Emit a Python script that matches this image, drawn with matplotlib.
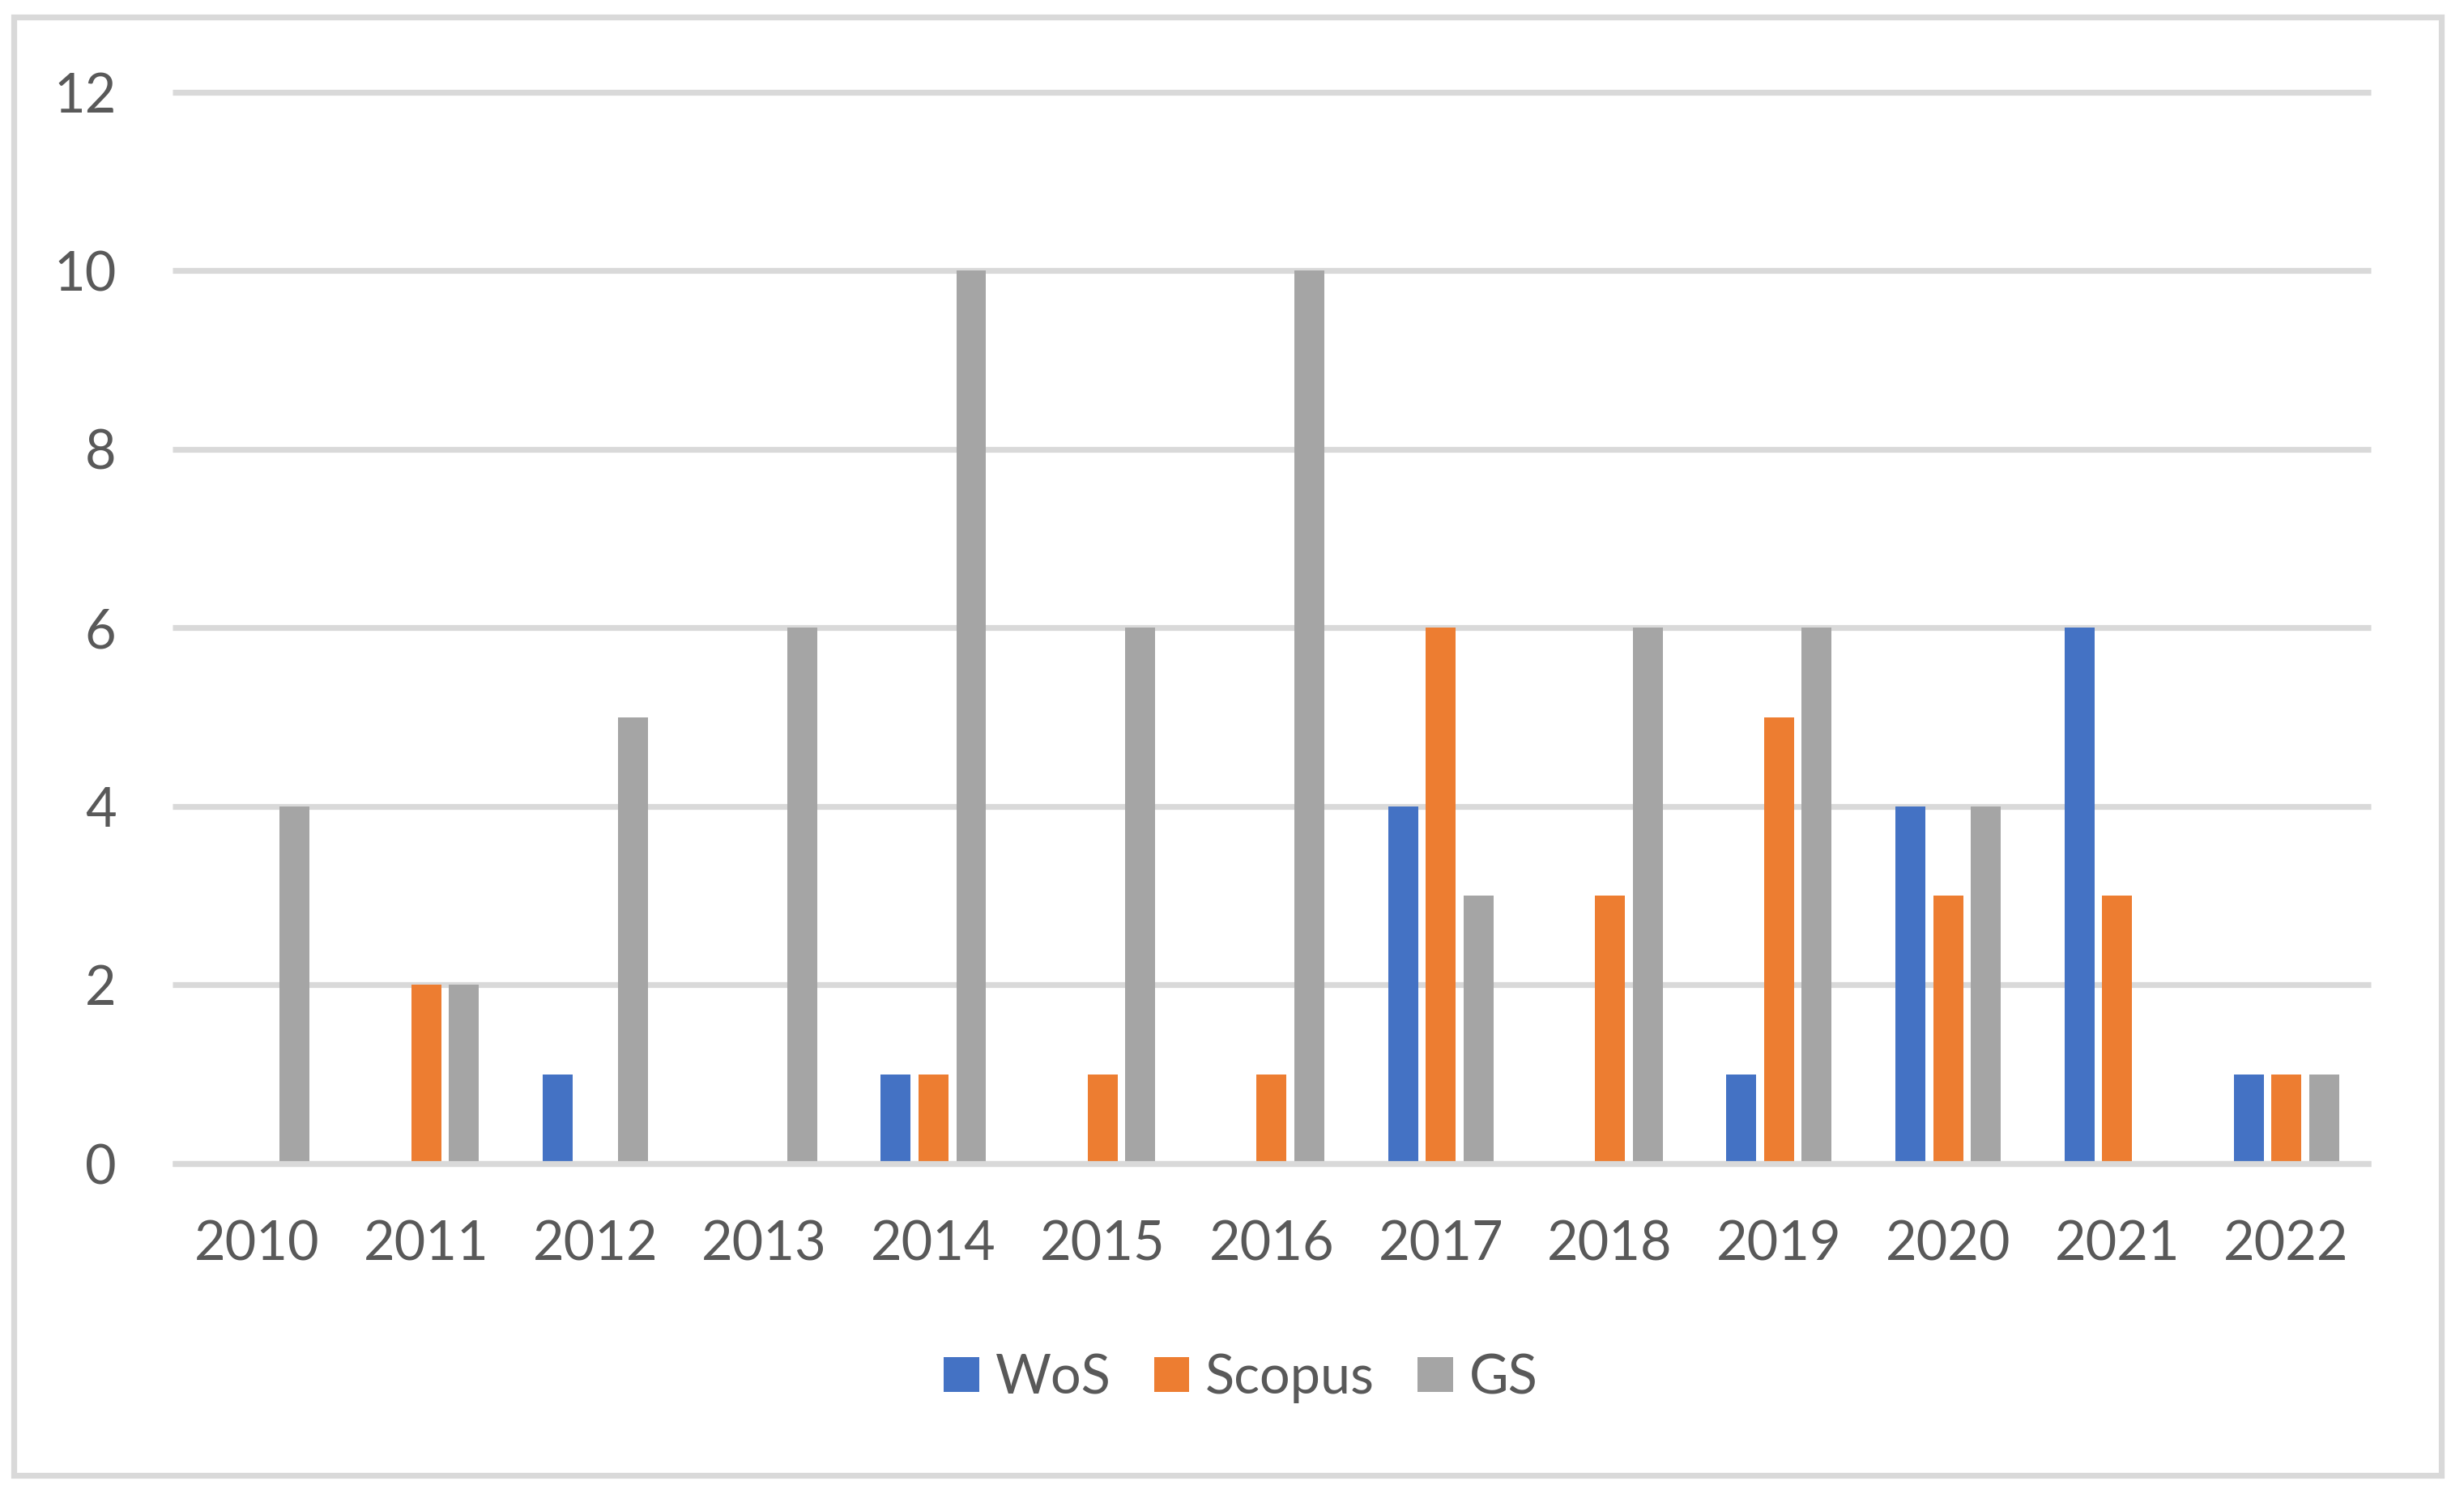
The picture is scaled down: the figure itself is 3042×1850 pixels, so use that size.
import numpy as np
import matplotlib
matplotlib.use("Agg")
import matplotlib.pyplot as plt
from matplotlib.patches import Rectangle

years = ["2010", "2011", "2012", "2013", "2014", "2015", "2016",
         "2017", "2018", "2019", "2020", "2021", "2022"]
wos = [0, 0, 1, 0, 1, 0, 0, 4, 0, 1, 4, 6, 1]
scopus = [0, 2, 0, 0, 1, 1, 1, 6, 3, 5, 3, 3, 1]
gs = [4, 2, 5, 6, 10, 6, 10, 3, 6, 6, 4, 0, 1]
y_ticks = [0, 2, 4, 6, 8, 10, 12]

series = [("WoS", wos, "#4472C4"),
          ("Scopus", scopus, "#ED7D31"),
          ("GS", gs, "#A5A5A5")]

plt.rcParams['font.family'] = ['Lato', 'DejaVu Sans']
text_col = "#595959"
grid_col = "#D9D9D9"

fig = plt.figure(figsize=(15.21, 9.25), dpi=200)
ax = fig.add_axes([0.0700, 0.2232, 0.8922, 0.7154])

x = np.arange(len(years))
bar_w = 0.177
step = 0.223
for i, (name, vals, col) in enumerate(series):
    ax.bar(x + (i - 1) * step, vals, width=bar_w, color=col, label=name, zorder=2)

ax.set_xlim(-0.5, len(years) - 0.5)
ax.set_ylim(0, 12)
ax.set_yticks(y_ticks)
ax.set_xticks(x)
ax.set_xticklabels(years)

ax.yaxis.grid(True, color=grid_col, linewidth=2.6, solid_capstyle='butt')
ax.set_axisbelow(True)
for gl in ax.get_ygridlines():
    gl.set_clip_on(False)
ax.axhline(0, color=grid_col, linewidth=2.6, zorder=3, clip_on=False,
           solid_capstyle='butt')

for s in ax.spines.values():
    s.set_visible(False)
ax.tick_params(axis='both', length=0, labelsize=24, labelcolor=text_col)
ax.tick_params(axis='y', pad=25)
ax.tick_params(axis='x', pad=25)

leg = fig.legend(loc='center', bbox_to_anchor=(0.5036, 0.08), ncol=3,
                 frameon=False, fontsize=24, handlelength=0.65,
                 handleheight=0.6, handletextpad=0.3, columnspacing=0.8)
for t in leg.get_texts():
    t.set_color(text_col)

# outer chart border
fig.patches.append(Rectangle((16.5 / 3042, 1 - 1822 / 1850),
                             (3014 - 16.5) / 3042, (1822 - 21) / 1850,
                             transform=fig.transFigure, fill=False,
                             edgecolor=grid_col, linewidth=2.6))

fig.savefig("out.png", dpi=200)
